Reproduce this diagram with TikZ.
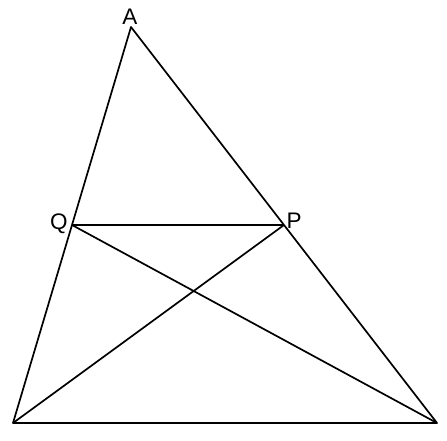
\documentclass[tikz,border=0pt]{standalone}
\usepackage{fontspec}
\setmainfont{Liberation Sans}
\usetikzlibrary{calc}
\begin{document}
\begin{tikzpicture}[x=1pt,y=-1pt,
  edge/.style={line width=1.7pt, line join=round},
  lab/.style={font=\fontsize{22.5}{26}\selectfont, inner sep=0pt}]
\useasboundingbox (0,0) rectangle (447,440);
\coordinate (A) at (131,27);
\coordinate (B) at (13,423);
\coordinate (C) at (437,423);
\coordinate (Q) at ($(A)!0.5!(B)$);
\coordinate (P) at ($(A)!0.5!(C)$);
\draw[edge] (A) -- (B) -- (C) -- cycle;
\draw[edge] (Q) -- (P);
\draw[edge] (Q) -- (C);
\draw[edge] (P) -- (B);
\node[lab] (lA) at (130,17) {A};
\node[lab] (lQ) at (59,224) {Q};
\node[lab] (lP) at (294,221) {P};
\end{tikzpicture}
\end{document}
